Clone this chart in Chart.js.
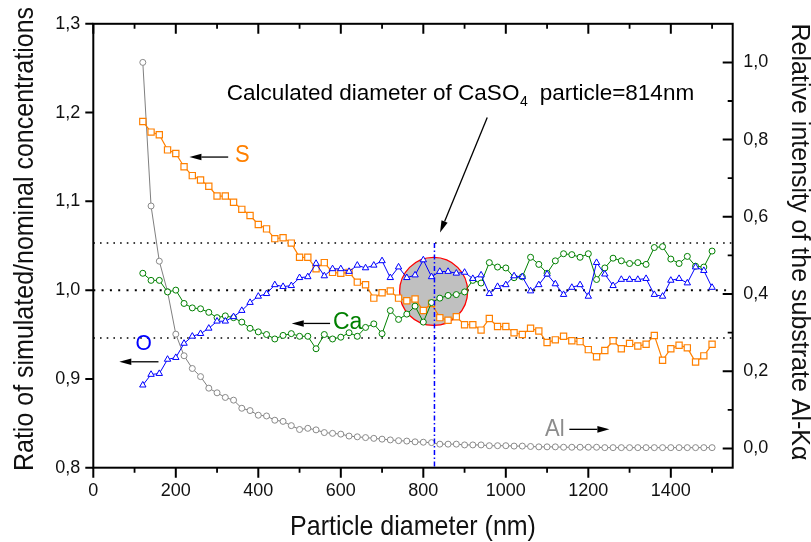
<!DOCTYPE html>
<html>
<head>
<meta charset="utf-8">
<script src="https://cdn.jsdelivr.net/npm/chart.js@4.4.1/dist/chart.umd.min.js"></script>
<style>
html,body{margin:0;padding:0;background:#fff;}
#wrap{width:811px;height:542px;position:relative;}
</style>
</head>
<body>
<div id="wrap"><canvas id="c" width="811" height="542"></canvas></div>
<script>
// ---------------- DATA ----------------
const diameters = [120,140,160,180,200,220,240,260,280,300,320,340,360,380,400,420,440,460,480,500,
  520,540,560,580,600,620,640,660,680,700,720,740,760,780,800,820,840,860,880,900,
  920,940,960,980,1000,1020,1040,1060,1080,1100,1120,1140,1160,1180,1200,1220,1240,1260,1280,1300,
  1320,1340,1360,1380,1400,1420,1440,1460,1480,1500];

const sRatio = [1.190,1.178,1.175,1.158,1.154,1.139,1.129,1.124,1.117,1.106,
  1.106,1.099,1.091,1.084,1.074,1.069,1.058,1.059,1.053,1.037,
  1.037,1.024,1.031,1.020,1.019,1.020,1.009,1.006,0.991,0.997,
  0.999,0.991,0.988,0.990,0.977,0.985,0.969,0.966,0.970,0.961,
  0.961,0.955,0.968,0.959,0.959,0.952,0.950,0.957,0.954,0.941,
  0.944,0.948,0.943,0.942,0.933,0.925,0.932,0.943,0.934,0.940,
  0.937,0.939,0.949,0.921,0.934,0.938,0.935,0.919,0.926,0.939];

const oRatio = [0.893,0.905,0.906,0.922,0.924,0.940,0.948,0.951,0.957,0.965,
  0.965,0.970,0.977,0.986,0.993,0.996,1.006,1.004,1.005,1.014,
  1.015,1.030,1.016,1.024,1.024,1.021,1.028,1.025,1.028,1.033,
  1.014,1.026,1.014,1.017,1.034,1.015,1.021,1.021,1.019,1.020,
  1.013,1.017,0.996,1.004,1.006,1.016,1.015,0.999,1.006,1.018,
  1.007,0.995,1.003,1.006,0.993,1.031,1.018,1.005,1.012,1.012,
  1.012,1.013,0.995,0.993,1.011,1.013,1.008,1.026,1.022,1.003];

const caRatio = [1.019,1.011,1.011,0.998,1.000,0.985,0.980,0.979,0.975,0.969,
  0.971,0.969,0.964,0.957,0.953,0.950,0.945,0.949,0.951,0.948,
  0.948,0.934,0.950,0.945,0.947,0.952,0.948,0.958,0.962,0.951,
  0.977,0.967,0.973,0.982,0.964,0.986,0.991,0.994,0.995,0.998,
  1.011,1.008,1.031,1.026,1.025,1.014,1.015,1.037,1.029,1.019,
  1.033,1.041,1.040,1.037,1.041,1.012,1.025,1.036,1.033,1.030,
  1.031,1.029,1.048,1.049,1.035,1.030,1.038,1.027,1.026,1.044];

const alIntensity = [1.000,0.628,0.485,0.406,0.296,0.240,0.207,0.186,0.156,0.144,
  0.132,0.125,0.104,0.098,0.086,0.084,0.073,0.070,0.059,0.049,
  0.052,0.048,0.041,0.039,0.037,0.032,0.030,0.028,0.026,0.024,
  0.022,0.020,0.019,0.017,0.016,0.015,0.011,0.011,0.011,0.009,
  0.009,0.009,0.007,0.007,0.007,0.006,0.006,0.005,0.004,0.004,
  0.004,0.003,0.003,0.003,0.003,0.003,0.002,0.002,0.002,0.002,
  0.002,0.002,0.002,0.002,0.002,0.002,0.002,0.002,0.002,0.002];

const refLevels = [1.053, 1.000, 0.946];   // dotted reference ratios
const calcDiameter = 827;                   // calculated particle diameter marker
const agreementSpot = {x: 825, y: 0.9986};  // centre of the highlighted agreement region

const xRange = [0, 1550];
const yRange = [0.8, 1.3];
const y2Range = [-0.05, 1.1];

// ---------------- STYLE ----------------
const FONT = "Arial, 'Liberation Sans', Helvetica, sans-serif";
const ORANGE = '#ff8000', GREEN = '#008000', BLUE = '#0000ff';
Chart.defaults.font.family = FONT;

const pts = (ys) => diameters.map((d, i) => ({x: d, y: ys[i]}));
const comma = (v, n) => v.toFixed(n).replace('.', ',');

// annotation layout in data units
const labels = [
  {text: 'S',  x: 343.5, y: 1.1518, axis: 'y',  color: ORANGE, size: 22, align: 'left'},
  {text: 'Ca', x: 581,   y: 0.9636, axis: 'y',  color: GREEN,  size: 23, align: 'left'},
  {text: 'O',  x: 122,   y: 0.940,  axis: 'y',  color: BLUE,   size: 21, align: 'center'},
  {text: 'Al', x: 1095,  y: 0.0496, axis: 'y2', color: '#8c8c8c', size: 22, align: 'left'}
];
const arrows = [
  {x1: 327, y1: 1.1499, x2: 233, y2: 1.1499, axis: 'y'},
  {x1: 574, y1: 0.9625, x2: 481, y2: 0.9625, axis: 'y'},
  {x1: 158, y1: 0.9193, x2: 63,  y2: 0.9193, axis: 'y'},
  {x1: 1154, y1: 0.0494, x2: 1251, y2: 0.0494, axis: 'y2'},
  {x1: 955, y1: 1.1944, x2: 840.5, y2: 1.0649, axis: 'y'}
];
const calcText = {x: 890, y: 1.2137};

function drawArrow(ctx, x1, y1, x2, y2, len, hw) {
  const ang = Math.atan2(y2 - y1, x2 - x1);
  const bx = x2 - len * Math.cos(ang), by = y2 - len * Math.sin(ang);
  ctx.beginPath(); ctx.moveTo(x1, y1); ctx.lineTo(bx, by); ctx.stroke();
  ctx.beginPath(); ctx.moveTo(x2, y2);
  ctx.lineTo(bx + hw * Math.sin(ang), by - hw * Math.cos(ang));
  ctx.lineTo(bx - hw * Math.sin(ang), by + hw * Math.cos(ang));
  ctx.closePath(); ctx.fill();
}

// text slightly stretched vertically, like the reference artwork
function tallText(ctx, text, x, y, rot, sy) {
  ctx.save(); ctx.translate(x, y); ctx.rotate(rot); ctx.scale(1, sy);
  ctx.fillText(text, 0, 0); ctx.restore();
}

const decor = {
  id: 'decor',
  beforeDraw(chart) {
    const c = chart.ctx; c.save(); c.fillStyle = '#fff'; c.fillRect(0, 0, chart.width, chart.height); c.restore();
  },
  afterDatasetsDraw(chart) {
    const {ctx, chartArea: a, scales} = chart;
    const {x, y, y2} = scales;
    ctx.save();
    ctx.strokeStyle = '#000'; ctx.lineWidth = 2;
    ctx.strokeRect(a.left, a.top, a.right - a.left, a.bottom - a.top);

    // x ticks (bottom outward, top inward)
    const xt = x.ticks.map(t => t.value);
    const xs = xt[1] - xt[0];
    ctx.beginPath();
    xt.forEach(v => {
      const p = x.getPixelForValue(v);
      ctx.moveTo(p, a.bottom); ctx.lineTo(p, a.bottom + 10);
      ctx.moveTo(p, a.top); ctx.lineTo(p, a.top + 10);
    });
    ctx.stroke();
    ctx.lineWidth = 1.8;
    ctx.beginPath();
    xt.forEach(v => {
      const m = v + xs / 2;
      if (m < x.max) {
        const p = x.getPixelForValue(m);
        ctx.moveTo(p, a.bottom); ctx.lineTo(p, a.bottom + 5);
        ctx.moveTo(p, a.top); ctx.lineTo(p, a.top + 5);
      }
    });
    ctx.stroke();
    // left ticks outward
    ctx.lineWidth = 2;
    ctx.beginPath();
    y.ticks.forEach(t => {
      const p = y.getPixelForValue(t.value);
      ctx.moveTo(a.left, p); ctx.lineTo(a.left - 8, p);
    });
    ctx.stroke();
    // right ticks inward
    const rt = y2.ticks.map(t => t.value);
    const rs = rt[1] - rt[0];
    ctx.beginPath();
    rt.forEach(v => { const p = y2.getPixelForValue(v); ctx.moveTo(a.right, p); ctx.lineTo(a.right - 10, p); });
    ctx.stroke();
    ctx.lineWidth = 1.8;
    ctx.beginPath();
    rt.forEach(v => {
      const m = v + rs / 2;
      if (m < y2.max) { const p = y2.getPixelForValue(m); ctx.moveTo(a.right, p); ctx.lineTo(a.right - 5, p); }
    });
    ctx.stroke();

    // arrows
    ctx.strokeStyle = '#000'; ctx.fillStyle = '#000'; ctx.lineWidth = 1.3;
    arrows.forEach(ar => {
      const ys = scales[ar.axis];
      drawArrow(ctx, x.getPixelForValue(ar.x1), ys.getPixelForValue(ar.y1),
        x.getPixelForValue(ar.x2), ys.getPixelForValue(ar.y2), 12, 3.3);
    });

    // element labels
    ctx.textBaseline = 'middle';
    labels.forEach(l => {
      ctx.font = `${l.size}px ${FONT}`;
      ctx.fillStyle = l.color; ctx.textAlign = l.align;
      tallText(ctx, l.text, x.getPixelForValue(l.x), scales[l.axis].getPixelForValue(l.y), 0, 1.08);
    });

    // calculated diameter text with subscript
    ctx.fillStyle = '#000'; ctx.textBaseline = 'alphabetic'; ctx.textAlign = 'left';
    const p1 = 'Calculated diameter of CaSO', p2 = '4', p3 = '  particle=814nm';
    const mainF = `22.5px ${FONT}`, subF = `14px ${FONT}`;
    ctx.font = mainF; const w1 = ctx.measureText(p1).width, w3 = ctx.measureText(p3).width;
    ctx.font = subF; const w2 = ctx.measureText(p2).width;
    const tot = w1 + w2 + w3;
    let tx = x.getPixelForValue(calcText.x) - tot / 2;
    const ty = y.getPixelForValue(calcText.y);
    ctx.font = mainF; ctx.fillText(p1, tx, ty); tx += w1;
    ctx.font = subF; ctx.fillText(p2, tx + 0.5, ty + 5.5); tx += w2;
    ctx.font = mainF; ctx.fillText(p3, tx, ty);

    // axis titles
    ctx.fillStyle = '#111';
    ctx.font = `25px ${FONT}`;
    ctx.textAlign = 'center';
    tallText(ctx, 'Particle diameter (nm)', (a.left + a.right) / 2, 535, 0, 1.07);
    tallText(ctx, 'Ratio of simulated/nominal concentrations', 33, 239, -Math.PI / 2, 1.07);
    tallText(ctx, 'Relative intensity of the substrate Al-K\u03B1', 792, 242, Math.PI / 2, 1.05);
    ctx.restore();
  }
};

const tickFont = {family: FONT, size: 18};

new Chart(document.getElementById('c'), {
  type: 'line',
  data: {
    datasets: [
      ...refLevels.map((lv, i) => ({
        label: 'ref' + i, data: [{x: xRange[0], y: lv}, {x: xRange[1], y: lv}],
        borderColor: '#000', borderWidth: i === 1 ? 2 : 1.5, borderDash: i === 1 ? [2, 6.3] : [1.6, 5.1],
        pointRadius: 0, yAxisID: 'y', order: 10
      })),
      {type: 'bubble', label: 'spot', data: [{x: agreementSpot.x, y: agreementSpot.y, r: 34}],
        backgroundColor: '#c0c0c0', borderColor: '#ff0000', borderWidth: 1.3, yAxisID: 'y', order: 9},
      {label: 'Al', data: pts(alIntensity), yAxisID: 'y2', borderColor: '#808080', borderWidth: 1,
        pointStyle: 'circle', pointRadius: 3, pointBorderColor: '#8a8a8a', pointBackgroundColor: '#fff',
        pointBorderWidth: 1, tension: 0, order: 5},
      {label: 'S', data: pts(sRatio), yAxisID: 'y', borderColor: ORANGE, borderWidth: 1.2,
        pointStyle: 'rect', pointRadius: 4.4, pointBorderColor: ORANGE, pointBackgroundColor: '#fff',
        pointBorderWidth: 1.2, tension: 0, order: 4},
      {label: 'Ca', data: pts(caRatio), yAxisID: 'y', borderColor: GREEN, borderWidth: 1,
        pointStyle: 'circle', pointRadius: 3, pointBorderColor: GREEN, pointBackgroundColor: '#fff',
        pointBorderWidth: 1, tension: 0, order: 3},
      {label: 'O', data: pts(oRatio), yAxisID: 'y', borderColor: BLUE, borderWidth: 1,
        pointStyle: 'triangle', pointRadius: 3.7, pointBorderColor: BLUE, pointBackgroundColor: '#fff',
        pointBorderWidth: 1, tension: 0, order: 2},
      {label: 'calc', data: [{x: calcDiameter, y: refLevels[0]}, {x: calcDiameter, y: yRange[0]}],
        yAxisID: 'y', borderColor: BLUE, borderWidth: 1.5, borderDash: [5, 2.5, 1.5, 2.5],
        pointRadius: 0, order: 1}
    ]
  },
  options: {
    responsive: false, animation: false, devicePixelRatio: 1,
    events: [],
    layout: {padding: {top: 23.3, left: 0, right: 0, bottom: 0}, autoPadding: false},
    plugins: {legend: {display: false}, tooltip: {enabled: false}},
    scales: {
      x: {type: 'linear', position: 'bottom', min: xRange[0], max: xRange[1],
        grid: {display: false, drawTicks: false}, border: {display: false},
        ticks: {stepSize: 200, includeBounds: false, padding: 12.5, font: tickFont, color: '#111',
          maxRotation: 0, autoSkip: false, callback: v => String(v)},
        afterFit(s) { s.height = 74.3; }},
      y: {type: 'linear', position: 'left', min: yRange[0], max: yRange[1],
        grid: {display: false, drawTicks: false}, border: {display: false},
        ticks: {stepSize: 0.1, includeBounds: false, padding: 13, font: tickFont, color: '#111',
          callback: v => comma(v, 1)},
        afterFit(s) { s.width = 93.3; }},
      y2: {type: 'linear', position: 'right', min: y2Range[0], max: y2Range[1],
        grid: {display: false, drawTicks: false}, border: {display: false},
        ticks: {stepSize: 0.2, includeBounds: false, padding: 10.6, font: tickFont, color: '#111',
          callback: v => comma(v, 1)},
        afterFit(s) { s.width = 78.3; }}
    }
  },
  plugins: [decor]
});
</script>
</body>
</html>
